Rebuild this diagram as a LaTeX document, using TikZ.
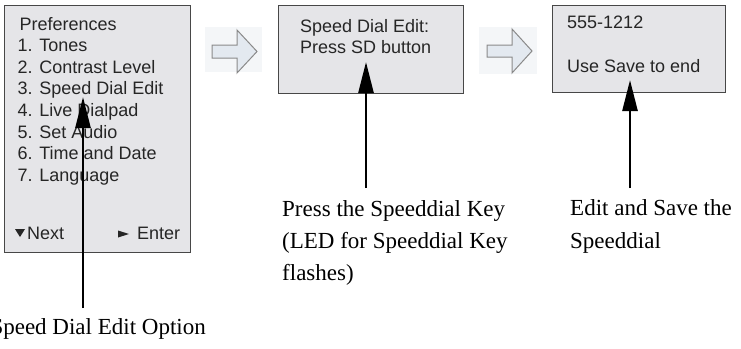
\documentclass[tikz,border=0pt]{standalone}
\usepackage{fontspec}
\setmainfont{Liberation Serif}
\setsansfont{Liberation Sans}
\usetikzlibrary{arrows.meta}
\definecolor{boxfill}{HTML}{E5E5E8}
\definecolor{boxdraw}{HTML}{474747}
\definecolor{hbg}{HTML}{F4F6F8}
\definecolor{hfill}{HTML}{E3E9F0}
\definecolor{hdraw}{HTML}{8A8A8A}
\begin{document}
\begin{tikzpicture}[x=1pt,y=-1pt,
 screen/.style={draw=boxdraw,fill=boxfill,line width=1.3pt,inner sep=0pt,anchor=north west},
 menu/.style={anchor=base west,inner sep=0pt,font=\sffamily\fontsize{18}{18}\selectfont,text=black!85},
 lbl/.style={anchor=base west,inner sep=0pt,font=\fontsize{23}{23}\selectfont},
 ptr/.style={line width=2.6pt,-{Triangle[length=31pt,width=15pt]}},
 hollow/.style={fill=hfill,draw=hdraw,line width=1pt,line join=miter},
 hback/.style={fill=hbg,draw=none}]
\useasboundingbox (0,0) rectangle (741,348);
\fill[white] (0,0) rectangle (741,348);

% screens
\node[screen,minimum width=186pt,minimum height=247pt] (s1) at (4,5) {};
\node[screen,minimum width=185pt,minimum height=88pt] (s2) at (278,5) {};
\node[screen,minimum width=173pt,minimum height=87pt] (s3) at (552,5) {};

% screen 1 text
\node[menu] (m0) at (19.5,30) {Preferences};
\node[menu] (m1) at (17.5,51.6) {1. Tones};
\node[menu] (m2) at (17.5,73.2) {2. Contrast Level};
\node[menu] (m3) at (17.5,94.8) {3. Speed Dial Edit};
\node[menu] (m4) at (17.5,116.4) {4. Live Dialpad};
\node[menu] (m5) at (17.5,138) {5. Set Audio};
\node[menu] (m6) at (17.5,159.6) {6. Time and Date};
\node[menu] (m7) at (17.5,181.2) {7. Language};
\fill[black!85] (15,229) -- (25,229) -- (20,237) -- cycle;
\node[menu] (mnext) at (27,239) {Next};
\fill[black!85] (118,230.5) -- (129,234) -- (118,237.5) -- cycle;
\node[menu] (menter) at (137,239) {Enter};

% screen 2 text
\node[menu] (t2a) at (300,32) {Speed Dial Edit:};
\node[menu] (t2b) at (300,53) {Press SD button};

% screen 3 text
\node[menu] (t3a) at (567,28) {555-1212};
\node[menu] (t3b) at (567,72) {Use Save to end};

% hollow arrows
\fill[hback] (205,27) rectangle (262,72);
\draw[hollow] (212,45) -- (237,45) -- (237,30) -- (257,51.5) -- (237,73) -- (237,58) -- (212,58) -- cycle;
\fill[hback] (479,27) rectangle (537,74);
\draw[hollow] (487,45) -- (512,45) -- (512,29) -- (532,51) -- (512,73) -- (512,57) -- (487,57) -- cycle;

% labels
\node[lbl,anchor=base east] (l1) at (206,334) {Speed Dial Edit Option};
\node[lbl] (l2a) at (282,216) {Press the Speeddial Key};
\node[lbl] (l2b) at (282,248) {(LED for Speeddial Key};
\node[lbl] (l2c) at (282,280) {flashes)};
\node[lbl] (l3a) at (570,215) {Edit and Save the};
\node[lbl] (l3b) at (570,248) {Speeddial};

% pointer arrows
\coordinate (p1tail) at (83,308);
\coordinate (p1tip) at (83,97);
\coordinate (p2tail) at (366,188);
\coordinate (p2tip) at (366,62);
\coordinate (p3tail) at (630,188);
\coordinate (p3tip) at (630,80);
\draw[ptr] (p1tail) -- (p1tip);
\draw[ptr] (p2tail) -- (p2tip);
\draw[ptr] (p3tail) -- (p3tip);
\end{tikzpicture}
\end{document}
